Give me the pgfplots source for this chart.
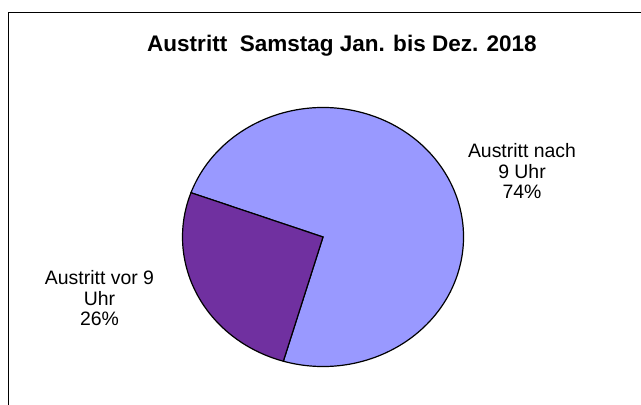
\documentclass[border=0pt]{standalone}
\usepackage{pgfplots}
\pgfplotsset{compat=1.18}
\usepackage{pgfplotstable}
\usepackage{fontspec}
\setmainfont{Liberation Sans}
\definecolor{sliceblue}{HTML}{9999FF}
\definecolor{slicepurple}{HTML}{7030A0}
\pgfplotstableread[col sep=comma]{
label,value
vor,26
nach,74
}\piedata
\begin{document}
\begin{tikzpicture}
\pgfplotstablegetelem{0}{value}\of\piedata \let\vVor\pgfplotsretval
\pgfplotstablegetelem{1}{value}\of\piedata \let\vNach\pgfplotsretval
\pgfmathsetmacro{\aStart}{160}
\pgfmathsetmacro{\aMid}{\aStart+3.6*\vVor}
\pgfmathsetmacro{\aEnd}{\aMid+3.6*\vNach}
\begin{axis}[
  width=641bp, height=405bp, scale only axis,
  xmin=0, xmax=641, ymin=0, ymax=405,
  hide axis, clip=false,
]
\coordinate (bbBL) at (axis cs:0,0);
\coordinate (bbTR) at (axis cs:641,405);
% frame (top and left only)
\draw[black, line width=1.8bp] (axis cs:8.5,0) -- (axis cs:8.5,392.5) -- (axis cs:641,392.5);
% slices
\filldraw[fill=sliceblue, draw=black, line width=1.2bp, line join=miter]
  (axis cs:323,168) -- ++(\aMid:140.5bp and 129.5bp)
  arc[start angle=\aMid, end angle=\aEnd, x radius=140.5bp, y radius=129.5bp] -- cycle;
\filldraw[fill=slicepurple, draw=black, line width=1.2bp, line join=miter]
  (axis cs:323,168) -- ++(\aStart:140.5bp and 129.5bp)
  arc[start angle=\aStart, end angle=\aMid, x radius=140.5bp, y radius=129.5bp] -- cycle;
% title
\node[anchor=base, inner sep=0pt, font=\fontsize{22.6}{26}\selectfont\bfseries] at (axis cs:342,353) {Austritt\ \ Samstag Jan. bis Dez. 2018};
% labels
\begin{scope}[every node/.style={anchor=base, font=\fontsize{19.5}{23}\selectfont, inner sep=0pt}]
\node at (axis cs:522,247) {Austritt nach};
\node at (axis cs:522,226.5) {9 Uhr};
\node at (axis cs:522,206) {\vNach\%};
\node at (axis cs:99.5,120) {Austritt vor 9};
\node at (axis cs:99.5,99.5) {Uhr};
\node at (axis cs:99.5,79) {\vVor\%};
\end{scope}
\end{axis}
\pgfresetboundingbox
\path[use as bounding box] (bbBL) rectangle (bbTR);
\end{tikzpicture}
\end{document}
